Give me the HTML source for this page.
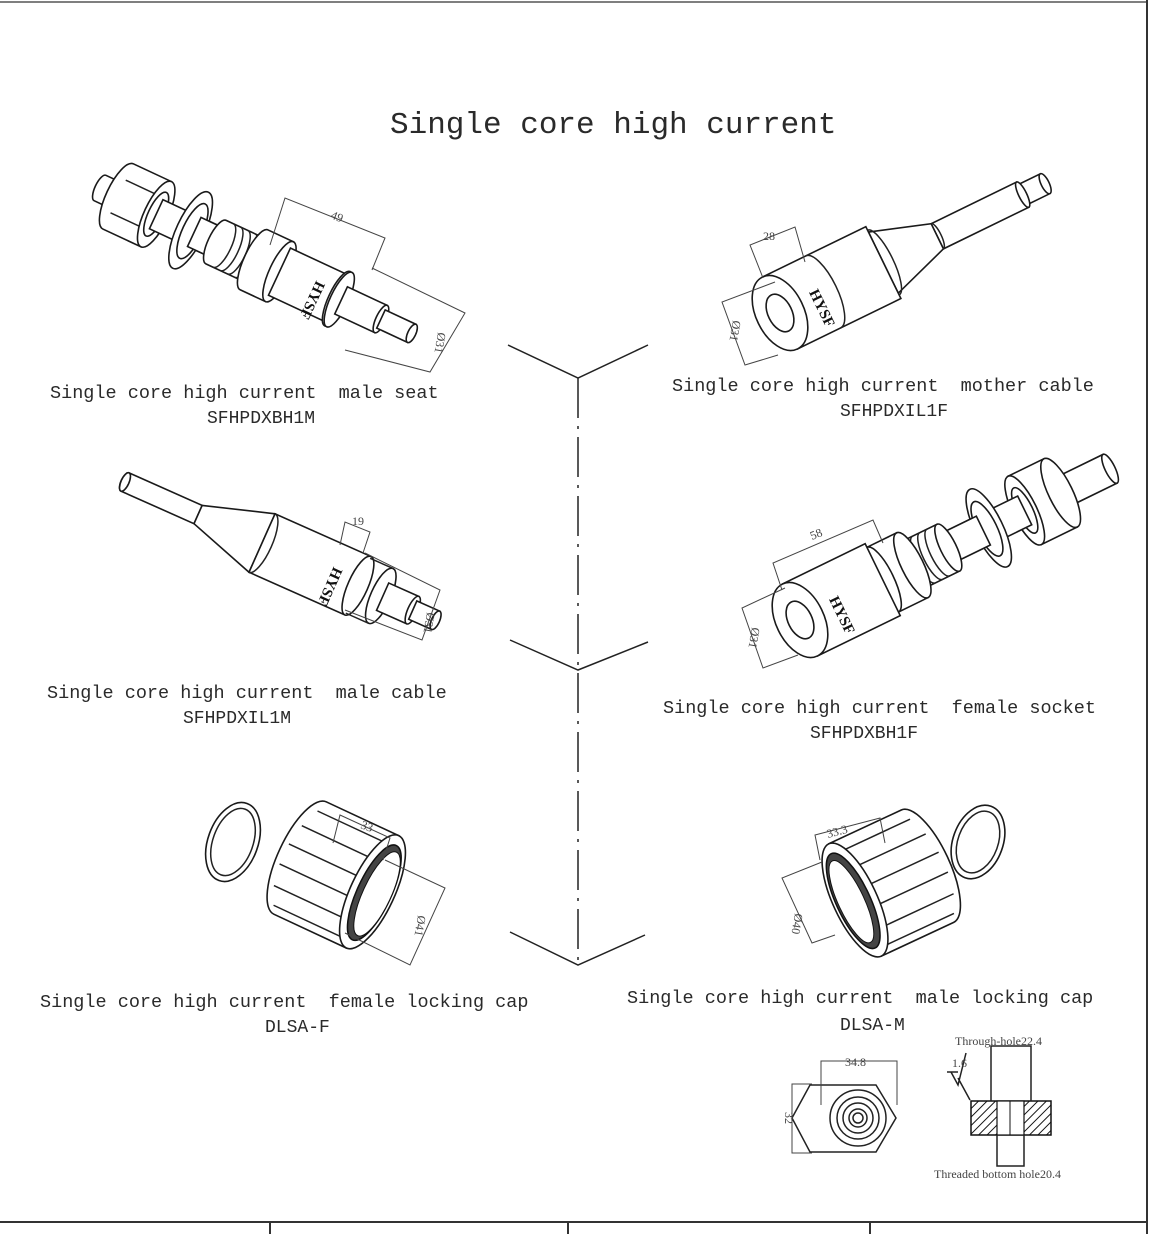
<!DOCTYPE html>
<html><head><meta charset="utf-8"><style>
html,body{margin:0;padding:0;background:#fff}
svg{display:block}
text{white-space:pre}
.t{font-family:"Liberation Mono","DejaVu Sans Mono",monospace;fill:#2a2a2a}
.s{fill:#fff;stroke:#1a1a1a;stroke-width:1.6}
.l{fill:none;stroke:#222;stroke-width:1.5}
.d{fill:none;stroke:#444;stroke-width:1}
.dt{font-family:"Liberation Serif",serif;font-size:12px;fill:#444}
</style></head><body>
<svg width="1161" height="1234" viewBox="0 0 1161 1234" xmlns="http://www.w3.org/2000/svg" xml:space="preserve">
<defs>
<pattern id="h" width="6" height="6" patternUnits="userSpaceOnUse" patternTransform="rotate(45)"><rect width="6" height="6" fill="#fff"/><line x1="0" y1="0" x2="0" y2="6" stroke="#111" stroke-width="2"/></pattern>
</defs>
<line x1="0" y1="2" x2="1147" y2="2" stroke="#555" stroke-width="1.5"/>
<line x1="1147" y1="0" x2="1147" y2="1234" stroke="#333" stroke-width="2"/>
<line x1="0" y1="1222" x2="1147" y2="1222" stroke="#333" stroke-width="2"/>
<line x1="270" y1="1222" x2="270" y2="1234" stroke="#333" stroke-width="2"/>
<line x1="568" y1="1222" x2="568" y2="1234" stroke="#333" stroke-width="2"/>
<line x1="870" y1="1222" x2="870" y2="1234" stroke="#333" stroke-width="2"/>

<text class="t" x="390" y="133" font-size="31">Single core high current</text>

<g class="l" stroke-width="1.3">
<polyline points="508,345 578,378 648,345"/>
<polyline points="510,640 578,670 648,642"/>
<polyline points="510,932 578,965 645,935"/>
<line x1="578" y1="378" x2="578" y2="965" stroke-dasharray="40,8,3,8"/>
</g>

<!-- male seat -->
<g transform="translate(100,188) rotate(25)">
<path class="s" d="M0,-14 L25,-14 L25,14 L0,14 A5,14 0 0 1 0,-14Z"/><ellipse class="s" cx="25" cy="0" rx="5" ry="14"/>
<path class="s" d="M20,-36 L62,-36 L62,36 L20,36 A12,36 0 0 1 20,-36Z"/><line class="l" x1="20" y1="-18" x2="62" y2="-18"/><line class="l" x1="20" y1="18" x2="62" y2="18"/>
<ellipse class="s" cx="62" cy="0" rx="12" ry="36"/><ellipse class="s" cx="62" cy="0" rx="8" ry="24"/>
<path class="s" d="M62,-16 L130,-16 L130,16 L62,16Z"/>
<ellipse class="s" cx="100" cy="0" rx="14" ry="42"/><ellipse class="s" cx="102" cy="0" rx="10" ry="30"/>
<path class="s" d="M104,-16 L130,-16 L130,16 L104,16Z"/>
<path class="s" d="M128,-24 L172,-24 L172,24 L128,24 A8,24 0 0 1 128,-24Z"/>
<g class="l" stroke-width="1"><path d="M136,-24 A8,24 0 0 1 136,24"/><path d="M144,-24 A8,24 0 0 1 144,24"/><path d="M152,-24 A8,24 0 0 1 152,24"/><path d="M160,-24 A8,24 0 0 1 160,24"/></g>
<path class="s" d="M170,-33 L198,-33 L198,33 L170,33 A10,33 0 0 1 170,-33Z"/><ellipse class="s" cx="198" cy="0" rx="10" ry="33"/>
<path class="s" d="M198,-26 L262,-26 L262,26 L198,26Z"/><ellipse class="s" cx="262" cy="0" rx="9" ry="30"/>
<ellipse class="s" cx="264" cy="0" rx="9" ry="30"/>
<text x="235" y="-8" font-family="Liberation Serif,serif" font-weight="bold" font-size="15" transform="rotate(90 235 -8)" fill="#111">HYSF</text>
<path class="s" d="M266,-15 L310,-15 L310,15 L266,15Z"/><ellipse class="s" cx="310" cy="0" rx="5" ry="15"/>
<path class="s" d="M310,-10 L344,-10 L344,10 L310,10Z"/><ellipse class="s" cx="344" cy="0" rx="4" ry="10"/>
</g>
<g class="d"><polyline points="270,245 285,198 385,238 372,270"/><polyline points="372,268 465,313 430,372 345,350"/></g>
<text class="dt" x="330" y="218" transform="rotate(22 330 218)">49</text>
<text class="dt" x="438" y="332" transform="rotate(100 438 332)">Ø31</text>
<text class="t" x="50" y="398" font-size="18.5">Single core high current  male seat</text>
<text class="t" x="207" y="423" font-size="18">SFHPDXBH1M</text>

<!-- mother cable -->
<g transform="translate(780,313) rotate(-26)">
<path class="s" d="M270,-11 L295,-11 L295,11 L270,11Z"/><ellipse class="s" cx="295" cy="0" rx="4" ry="11"/>
<path class="s" d="M175,-14 L270,-14 L270,14 L175,14Z"/><ellipse class="s" cx="270" cy="0" rx="4" ry="14"/>
<path class="s" d="M115,-34 L175,-14 L175,14 L115,34Z"/><path class="l" d="M175,-14 A4,14 0 0 1 175,14"/>
<path class="s" d="M0,-40 L115,-40 L115,40 L0,40Z"/><path class="l" d="M115,-36 A10,36 0 0 1 115,36"/>
<path class="l" d="M48,-40 A14,40 0 0 1 48,40"/>
<ellipse class="s" cx="0" cy="0" rx="24" ry="40"/><ellipse class="s" cx="0" cy="0" rx="12" ry="20"/>
<text x="35" y="-6" font-family="Liberation Serif,serif" font-weight="bold" font-size="15" transform="rotate(90 35 -6)" fill="#111">HYSF</text>
</g>
<g class="d"><polyline points="763,278 750,245 795,227 805,262"/><polyline points="775,282 722,302 745,365 778,355"/></g>
<text class="dt" x="763" y="240">28</text>
<text class="dt" x="733" y="320" transform="rotate(100 733 320)">Ø31</text>
<text class="t" x="672" y="391" font-size="18.5">Single core high current  mother cable</text>
<text class="t" x="840" y="416" font-size="18">SFHPDXIL1F</text>

<!-- male cable -->
<g transform="translate(125,482) rotate(24)">
<path class="s" d="M0,-10 L80,-10 L80,10 L0,10 A4,10 0 0 1 0,-10Z"/><ellipse class="s" cx="0" cy="0" rx="4" ry="10"/>
<path class="s" d="M80,-10 L150,-32 L150,32 L80,10Z"/>
<path class="s" d="M150,-32 L255,-32 L255,32 L150,32Z"/><path class="l" d="M150,-32 A10,32 0 0 1 150,32"/>
<ellipse class="s" cx="255" cy="0" rx="10" ry="32"/>
<ellipse class="s" cx="280" cy="0" rx="10" ry="30"/>
<line class="l" x1="255" y1="-30" x2="280" y2="-30"/><line class="l" x1="255" y1="30" x2="280" y2="30"/>
<text x="225" y="-8" font-family="Liberation Serif,serif" font-weight="bold" font-size="15" transform="rotate(90 225 -8)" fill="#111">HYSF</text>
<path class="s" d="M282,-15 L315,-15 L315,15 L282,15Z"/><ellipse class="s" cx="315" cy="0" rx="5" ry="15"/>
<path class="s" d="M315,-10 L340,-10 L340,10 L315,10Z"/><ellipse class="s" cx="340" cy="0" rx="4" ry="10"/>
</g>
<g class="d"><polyline points="340,545 345,522 370,532 363,553"/><polyline points="365,553 440,590 422,640 345,610"/></g>
<text class="dt" x="352" y="525">19</text>
<text class="dt" x="427" y="612" transform="rotate(100 427 612)">Ø31</text>
<text class="t" x="47" y="698" font-size="18.5">Single core high current  male cable</text>
<text class="t" x="183" y="723" font-size="18">SFHPDXIL1M</text>

<!-- female socket -->
<g transform="translate(800,620) rotate(-26)">
<path class="s" d="M300,-16 L345,-16 L345,16 L300,16Z"/><ellipse class="s" cx="345" cy="0" rx="5" ry="16"/>
<path class="s" d="M250,-38 L290,-38 L290,38 L250,38Z"/><ellipse class="s" cx="290" cy="0" rx="12" ry="38"/><ellipse class="s" cx="250" cy="0" rx="12" ry="38"/><ellipse class="s" cx="250" cy="0" rx="8" ry="25"/>
<path class="s" d="M170,-16 L250,-16 L250,16 L170,16Z"/>
<ellipse class="s" cx="210" cy="0" rx="14" ry="43"/><ellipse class="s" cx="208" cy="0" rx="10" ry="30"/>
<path class="s" d="M140,-16 L204,-16 L204,16 L140,16Z"/>
<path class="s" d="M120,-26 L165,-26 L165,26 L120,26Z"/><ellipse class="s" cx="165" cy="0" rx="8" ry="26"/>
<g class="l" stroke-width="1"><path d="M130,-26 A8,26 0 0 0 130,26"/><path d="M138,-26 A8,26 0 0 0 138,26"/><path d="M146,-26 A8,26 0 0 0 146,26"/><path d="M154,-26 A8,26 0 0 0 154,26"/></g>
<path class="s" d="M92,-36 L125,-36 L125,36 L92,36Z"/><ellipse class="s" cx="125" cy="0" rx="11" ry="36"/><ellipse class="s" cx="92" cy="0" rx="11" ry="36"/>
<path class="s" d="M0,-40 L92,-40 L92,40 L0,40Z"/>
<ellipse class="s" cx="0" cy="0" rx="24" ry="40"/><ellipse class="s" cx="0" cy="0" rx="12" ry="20"/>
<text x="35" y="-6" font-family="Liberation Serif,serif" font-weight="bold" font-size="15" transform="rotate(90 35 -6)" fill="#111">HYSF</text>
</g>
<g class="d"><polyline points="782,590 773,563 873,520 883,543"/><polyline points="785,588 742,608 763,668 798,655"/></g>
<text class="dt" x="812" y="540" transform="rotate(-22 812 540)">58</text>
<text class="dt" x="752" y="627" transform="rotate(100 752 627)">Ø31</text>
<text class="t" x="663" y="713" font-size="18.5">Single core high current  female socket</text>
<text class="t" x="810" y="738" font-size="18">SFHPDXBH1F</text>

<!-- female locking cap -->
<g transform="translate(233,842) rotate(20)">
<ellipse class="s" cx="0" cy="0" rx="25" ry="41" stroke-width="2.5"/><ellipse class="l" cx="0" cy="0" rx="20" ry="35"/>
</g>
<g transform="translate(300,858) rotate(25)">
<path class="s" d="M0,-62 L80,-62 L80,62 L0,62 A22,62 0 0 1 0,-62Z"/>
<g class="l" stroke-width="1.2"><line x1="-4" y1="-50" x2="70" y2="-50"/><line x1="-12" y1="-30" x2="70" y2="-30"/><line x1="-16" y1="-8" x2="70" y2="-8"/><line x1="-16" y1="14" x2="70" y2="14"/><line x1="-12" y1="36" x2="70" y2="36"/><line x1="-4" y1="54" x2="70" y2="54"/></g>
<ellipse class="s" cx="80" cy="0" rx="22" ry="62"/><ellipse cx="82" cy="0" rx="17" ry="52" fill="#444" stroke="#111" stroke-width="1.5"/><ellipse cx="85" cy="0" rx="14" ry="46" fill="#fff" stroke="#111"/>
</g>
<g class="d"><polyline points="333,843 340,815 390,838 383,860"/><polyline points="385,860 445,888 410,965 345,933"/></g>
<text class="dt" x="360" y="828" transform="rotate(20 360 828)">33</text>
<text class="dt" x="418" y="915" transform="rotate(100 418 915)">Ø41</text>
<text class="t" x="40" y="1007" font-size="18.5">Single core high current  female locking cap</text>
<text class="t" x="265" y="1032" font-size="18">DLSA-F</text>

<!-- male locking cap -->
<g transform="translate(978,842) rotate(20)">
<ellipse class="s" cx="0" cy="0" rx="25" ry="38" stroke-width="2.5"/><ellipse class="l" cx="0" cy="0" rx="20" ry="32"/>
</g>
<g transform="translate(855,900) rotate(-25)">
<path class="s" d="M80,-62 L0,-62 L0,62 L80,62 A22,62 0 0 0 80,-62Z"/>
<g class="l" stroke-width="1.2"><line x1="10" y1="-50" x2="84" y2="-50"/><line x1="10" y1="-30" x2="92" y2="-30"/><line x1="10" y1="-8" x2="96" y2="-8"/><line x1="10" y1="14" x2="96" y2="14"/><line x1="10" y1="36" x2="92" y2="36"/><line x1="10" y1="54" x2="84" y2="54"/></g>
<ellipse class="s" cx="0" cy="0" rx="22" ry="62"/><ellipse cx="-2" cy="0" rx="17" ry="52" fill="#444" stroke="#111" stroke-width="1.5"/><ellipse cx="-4" cy="0" rx="13" ry="45" fill="#fff" stroke="#111"/>
</g>
<g class="d"><polyline points="820,860 815,835 880,818 885,843"/><polyline points="822,862 782,878 812,943 835,935"/></g>
<text class="dt" x="828" y="838" transform="rotate(-15 828 838)">33.3</text>
<text class="dt" x="795" y="913" transform="rotate(100 795 913)">Ø40</text>
<text class="t" x="627" y="1003" font-size="18.5">Single core high current  male locking cap</text>
<text class="t" x="840" y="1030" font-size="18">DLSA-M</text>

<!-- hex detail -->
<g class="l" stroke-width="1.3">
<polygon points="792,1118 810,1085 876,1085 896,1118 876,1152 810,1152"/>
<circle cx="858" cy="1118" r="28"/><circle cx="858" cy="1118" r="21"/><circle cx="858" cy="1118" r="15"/><circle cx="858" cy="1118" r="9"/><circle cx="858" cy="1118" r="5"/>
</g>
<g class="d"><polyline points="821,1105 821,1061 897,1061 897,1105"/><polyline points="812,1084 792,1084 792,1153 812,1153"/></g>
<text class="dt" x="845" y="1066" fill="#345">34.8</text>
<text class="dt" x="785" y="1112" transform="rotate(90 785 1112)">32</text>
<rect x="971" y="1101" width="80" height="34" fill="url(#h)" stroke="#111" stroke-width="1.5"/>
<rect x="997" y="1101" width="27" height="34" fill="#fff" stroke="#111" stroke-width="1.2"/>
<line x1="1010" y1="1101" x2="1010" y2="1135" stroke="#111"/>
<g class="l" stroke-width="1.2"><polyline points="991,1101 991,1046 1031,1046 1031,1101"/><polyline points="997,1135 997,1166 1024,1166 1024,1135"/>
<polyline points="951,1072 958,1085 966,1053"/><line x1="947" y1="1072" x2="958" y2="1072"/><line x1="958" y1="1078" x2="970" y2="1100"/></g>
<text class="dt" x="955" y="1045" fill="#345">Through-hole22.4</text>
<text class="dt" x="952" y="1067" font-size="10">1.6</text>
<text class="dt" x="934" y="1178" fill="#345">Threaded bottom hole20.4</text>
</svg>
</body></html>
